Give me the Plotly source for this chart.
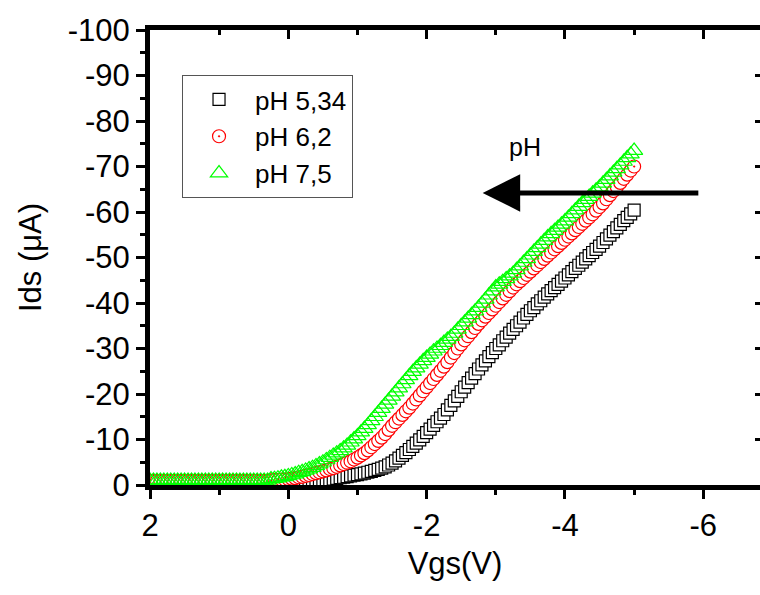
import numpy as np
import plotly.graph_objects as go

# Gate voltage sweep (V), 2.00 -> -5.00 in 0.05 V steps
vgs = np.round(np.linspace(2.0, -5.0, 141), 2)

flat_black = [-0.5] * 35
flat_red = [-0.9] * 35
flat_green = [-1.0] * 35

ids_ph534 = flat_black + [
    -0.3, -0.3, -0.3, -0.3, -0.3, -0.3,
    -0.35, -0.4, -0.45, -0.5, -0.6,
    -0.7, -0.75, -0.8, -0.9, -1.0,
    -1.1, -1.2, -1.3, -1.45, -1.6,
    -1.7, -1.85, -2.0, -2.15, -2.3,
    -2.45, -2.6, -2.8, -3.0, -3.2,
    -3.45, -3.7, -4.0, -4.4, -4.8,
    -5.3, -5.9, -6.5, -7.1, -7.8,
    -8.5, -9.2, -9.9, -10.7, -11.5,
    -12.3, -13.1, -13.9, -14.7, -15.5,
    -16.5, -17.5, -18.5, -19.5, -20.5,
    -21.5, -22.5, -23.5, -24.5, -25.5,
    -26.4, -27.3, -28.2, -29.1, -30.0,
    -30.8, -31.7, -32.5, -33.4, -34.2,
    -35.0, -35.8, -36.7, -37.5, -38.3,
    -39.0, -39.8, -40.5, -41.3, -42.0,
    -42.7, -43.4, -44.1, -44.8, -45.5,
    -46.2, -46.9, -47.6, -48.3, -49.0,
    -49.7, -50.4, -51.1, -51.8, -52.5,
    -53.3, -54.1, -54.9, -55.7, -56.5,
    -57.3, -58.1, -58.8, -59.6, -60.4,
]

ids_ph62 = flat_red + [
    -1.0, -1.1, -1.1, -1.2, -1.2, -1.3,
    -1.4, -1.5, -1.7, -1.8, -2.0,
    -2.2, -2.4, -2.6, -2.8, -3.0,
    -3.2, -3.5, -3.7, -4.0, -4.3,
    -4.6, -4.9, -5.2, -5.6, -6.0,
    -6.5, -7.0, -7.6, -8.3, -9.0,
    -9.7, -10.4, -11.2, -12.1, -13.0,
    -13.8, -14.6, -15.4, -16.2, -17.0,
    -17.9, -18.8, -19.7, -20.6, -21.5,
    -22.4, -23.3, -24.2, -25.1, -26.0,
    -27.0, -28.0, -29.0, -30.0, -30.9,
    -31.8, -32.7, -33.6, -34.5, -35.4,
    -36.2, -37.0, -37.8, -38.6, -39.4,
    -40.2, -41.0, -41.8, -42.6, -43.4,
    -44.1, -44.8, -45.5, -46.2, -46.9,
    -47.6, -48.3, -49.0, -49.7, -50.4,
    -51.1, -51.8, -52.5, -53.2, -53.9,
    -54.6, -55.3, -56.0, -56.7, -57.4,
    -58.1, -58.8, -59.5, -60.3, -61.1,
    -61.9, -62.8, -63.7, -64.6, -65.5,
    -66.4, -67.3, -68.2, -69.1, -70.0,
]

ids_ph75 = flat_green + [
    -1.3, -1.4, -1.5, -1.7, -1.8, -2.0,
    -2.2, -2.4, -2.7, -2.9, -3.2,
    -3.5, -3.8, -4.2, -4.6, -5.0,
    -5.5, -6.0, -6.5, -7.0, -7.5,
    -8.1, -8.7, -9.4, -10.1, -10.8,
    -11.6, -12.4, -13.2, -14.1, -15.0,
    -15.9, -16.8, -17.7, -18.6, -19.5,
    -20.4, -21.3, -22.2, -23.1, -24.0,
    -24.9, -25.7, -26.5, -27.3, -28.0,
    -28.7, -29.4, -30.0, -30.6, -31.3,
    -32.0, -32.6, -33.3, -34.2, -35.0,
    -35.8, -36.6, -37.4, -38.2, -39.0,
    -39.9, -40.8, -41.7, -42.6, -43.5,
    -44.1, -44.7, -45.3, -45.9, -46.5,
    -47.3, -48.1, -48.9, -49.7, -50.5,
    -51.3, -52.1, -52.9, -53.7, -54.5,
    -55.2, -55.9, -56.6, -57.3, -58.0,
    -58.8, -59.6, -60.4, -61.2, -62.0,
    -62.7, -63.4, -64.1, -64.8, -65.5,
    -66.3, -67.1, -67.9, -68.7, -69.5,
    -70.3, -71.1, -71.9, -72.7, -73.5,
]

series_names = ["pH 5,34", "pH 6,2", "pH 7,5"]
x_ticks = [2, 0, -2, -4, -6]
y_ticks = list(range(-100, 1, 10))

FONT = "Arial, Liberation Sans, sans-serif"

fig = go.Figure()
fig.add_trace(go.Scatter(
    x=vgs, y=ids_ph534, mode="markers", name=series_names[0],
    marker=dict(symbol="square", size=12, color="white",
                line=dict(color="black", width=1.2)),
))
fig.add_trace(go.Scatter(
    x=vgs, y=ids_ph62, mode="markers", name=series_names[1],
    marker=dict(symbol="circle-dot", size=13, color="white",
                line=dict(color="#ff0000", width=1.2)),
))
fig.add_trace(go.Scatter(
    x=vgs, y=ids_ph75, mode="markers", name=series_names[2],
    marker=dict(symbol="triangle-up-open", size=15, color="#00ff00",
                line=dict(color="#00ff00", width=1.2)),
))
# empty trace to activate the mirrored (top/right) axes
fig.add_trace(go.Scatter(x=[], y=[], xaxis="x2", yaxis="y2",
                         showlegend=False, hoverinfo="skip"))

xr = [2, -6.82]
yr = [0, -100]

fig.update_layout(
    width=760, height=595,
    margin=dict(l=150, r=0, t=30, b=110, autoexpand=False),
    paper_bgcolor="white", plot_bgcolor="white",
    font=dict(family=FONT, color="black"),
    showlegend=True,
    legend=dict(
        x=0.0525, y=0.901, xanchor="left", yanchor="top",
        bgcolor="white", bordercolor="#555555", borderwidth=1,
        font=dict(size=26, family=FONT),
        itemwidth=62,
    ),
    xaxis=dict(
        range=xr, tickvals=x_ticks, ticktext=[str(v) for v in x_ticks],
        showgrid=False, zeroline=False, automargin=False,
        showline=True, linecolor="black", linewidth=5,
        ticks="outside", ticklen=9, tickwidth=3, tickcolor="black",
        minor=dict(ticks="outside", ticklen=5, tickwidth=3, dtick=1,
                   tick0=0, tickcolor="black", showgrid=False),
        tickfont=dict(size=31, family=FONT),
        title=dict(text="Vgs(V)", font=dict(size=31, family=FONT), standoff=12),
    ),
    yaxis=dict(
        range=yr, tickvals=y_ticks, ticktext=[str(v) for v in y_ticks],
        showgrid=False, zeroline=False, automargin=False,
        showline=True, linecolor="black", linewidth=5,
        ticks="outside", ticklen=9, tickwidth=3, tickcolor="black",
        minor=dict(ticks="outside", ticklen=5, tickwidth=3, dtick=5,
                   tick0=0, tickcolor="black", showgrid=False),
        tickfont=dict(size=31, family=FONT),
        title=dict(text="Ids (μA)", font=dict(size=31, family=FONT), standoff=18),
    ),
    xaxis2=dict(
        overlaying="x", side="top", range=xr, tickvals=x_ticks,
        showticklabels=False, showgrid=False, zeroline=False, automargin=False,
        showline=True, linecolor="black", linewidth=5,
        ticks="inside", ticklen=9, tickwidth=3, tickcolor="black",
        minor=dict(ticks="inside", ticklen=5, tickwidth=3, dtick=1,
                   tick0=0, tickcolor="black", showgrid=False),
    ),
    yaxis2=dict(
        overlaying="y", side="right", range=yr, tickvals=y_ticks,
        showticklabels=False, showgrid=False, zeroline=False, automargin=False,
        showline=False,
        ticks="inside", ticklen=5, tickwidth=3, tickcolor="black",
    ),
    annotations=[
        dict(x=-2.81, y=-64.2, ax=-5.95, ay=-64.2, xref="x", yref="y",
             axref="x", ayref="y", text="", showarrow=True,
             arrowhead=2, arrowsize=1.5, arrowwidth=5, arrowcolor="black"),
        dict(x=-3.42, y=-74.3, xref="x", yref="y", text="pH",
             showarrow=False, font=dict(size=25, family=FONT)),
    ],
)

page_fix = (
    "document.body.style.margin='0';"
    "document.body.style.overflow='hidden';"
    "var gd=document.getElementById('{plot_id}');"
    "Plotly.relayout(gd,{width:760,height:595});"
)

fig.write_html("out.html",
               config={"responsive": False, "displayModeBar": False},
               post_script=page_fix)
